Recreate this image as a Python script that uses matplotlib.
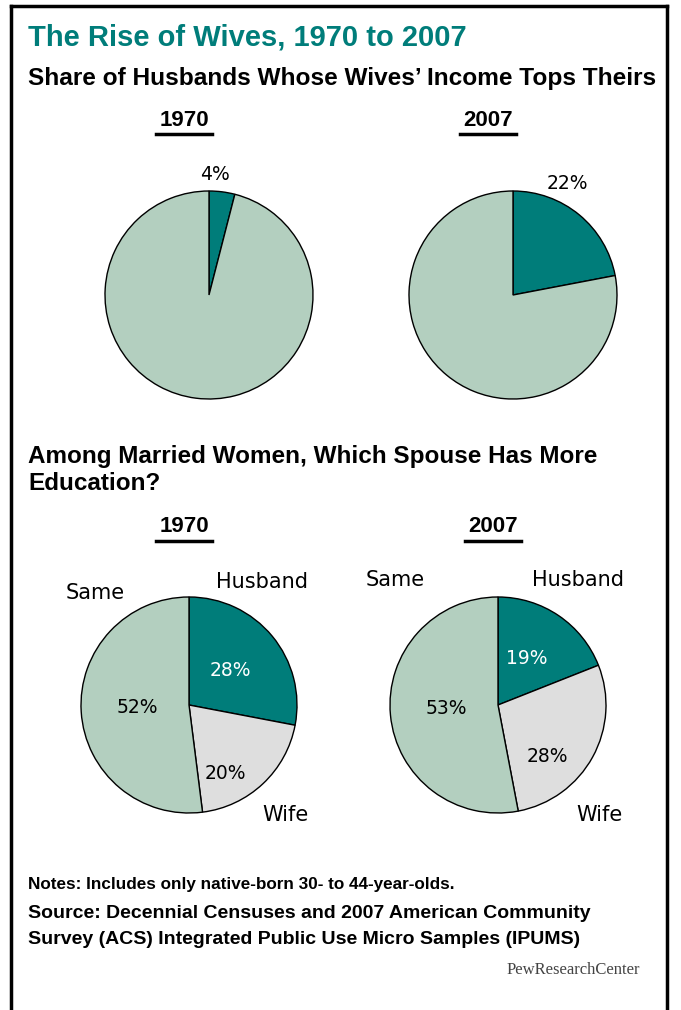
import matplotlib
matplotlib.use("Agg")
import matplotlib.pyplot as plt
from matplotlib.lines import Line2D
from matplotlib import font_manager

# income: share of husbands whose wife out-earns them
income_years = ["1970", "2007"]
income_wife_share = [4, 22]

# education: which spouse has more schooling
edu_years = ["1970", "2007"]
edu_categories = ["Husband", "Wife", "Same"]
edu_1970 = [28, 20, 52]
edu_2007 = [19, 28, 53]

TEAL = "#007d7a"
LIGHT_GREEN = "#b3cfbf"
LIGHT_GRAY = "#dedede"

W, H = 681, 1010
fig = plt.figure(figsize=(W / 100, H / 100), dpi=100)

names = {f.name for f in font_manager.fontManager.ttflist}
bold_font = ["Liberation Sans Narrow", "Liberation Sans", "DejaVu Sans"]
bold_font = [f for f in bold_font if f in names] or ["DejaVu Sans"]
plain_font = ["DejaVu Sans"]


def fx(px):
    return px / W


def fy(py):
    return 1 - py / H


def heading(x, y, s, size, color="black"):
    fig.text(fx(x), fy(y), s, fontsize=size, fontweight="bold", color=color,
             family=bold_font, ha="left", va="center")


def year_label(cx, y, s):
    fig.text(fx(cx), fy(y), s, fontsize=16, fontweight="bold",
             family=bold_font, ha="center", va="center")
    fig.add_artist(Line2D([fx(cx - 28), fx(cx + 28)], [fy(y + 14), fy(y + 14)],
                          color="black", lw=2.5, transform=fig.transFigure))


def pie_axes(cx, cy, r, pad=1.05):
    rr = r * pad
    ax = fig.add_axes([fx(cx - rr), (H - cy - rr) / H, 2 * rr / W, 2 * rr / H])
    ax.axis("off")
    return ax, pad


def fix_limits(ax, pad):
    ax.set_xlim(-pad, pad)
    ax.set_ylim(-pad, pad)
    ax.set_aspect("equal")


# frame (open at the bottom)
for xs, ys in [([11, 11], [6, H]), ([11, 667], [6, 6]), ([667, 667], [6, H])]:
    fig.add_artist(Line2D([fx(v) for v in xs], [fy(v) for v in ys],
                          color="black", lw=2.5, transform=fig.transFigure))

heading(28, 38, "The Rise of Wives, 1970 to 2007", 21)
fig.texts[-1].set_color(TEAL)
heading(28, 78, "Share of Husbands Whose Wives\u2019 Income Tops Theirs", 17.6)

# income pies
top_centers = [(209, 295), (513, 295)]
top_label_pos = [(0.06, 1.16), (0.52, 1.07)]
for year, share, (cx, cy), (lx, ly) in zip(income_years, income_wife_share,
                                           top_centers, top_label_pos):
    year_label(cx - 25, 120, year)
    ax, pad = pie_axes(cx, cy, 104)
    ax.pie([share, 100 - share], colors=[TEAL, LIGHT_GREEN], startangle=90,
           counterclock=False, wedgeprops=dict(edgecolor="black", linewidth=1))
    fix_limits(ax, pad)
    ax.text(lx, ly, f"{share}%", fontsize=13.5, family=plain_font,
            ha="center", va="center", clip_on=False)

heading(28, 457, "Among Married Women, Which Spouse Has More", 17.5)
heading(28, 483, "Education?", 17.5)

# education pies
bottom_centers = [(189, 705), (498, 705)]
cat_label_pos = [
    [(0.68, 1.14), (0.89, -1.02), (-0.87, 1.04)],
    [(0.74, 1.16), (0.94, -1.02), (-0.95, 1.16)],
]
pct_label_pos = [
    [(0.38, 0.32), (0.34, -0.63), (-0.48, -0.02)],
    [(0.27, 0.43), (0.46, -0.48), (-0.48, -0.03)],
]
pct_colors = ["white", "black", "black"]
for year, vals, (cx, cy), cpos, ppos in zip(edu_years, [edu_1970, edu_2007],
                                            bottom_centers, cat_label_pos,
                                            pct_label_pos):
    year_label(cx - 5, 527, year)
    ax, pad = pie_axes(cx, cy, 108)
    ax.pie(vals, colors=[TEAL, LIGHT_GRAY, LIGHT_GREEN], startangle=90,
           counterclock=False, wedgeprops=dict(edgecolor="black", linewidth=1))
    fix_limits(ax, pad)
    for cat, v, (x, y), (px, py), c in zip(edu_categories, vals, cpos, ppos,
                                          pct_colors):
        ax.text(x, y, cat, fontsize=15, family=plain_font,
                ha="center", va="center", clip_on=False)
        ax.text(px, py, f"{v}%", fontsize=13.5, family=plain_font, color=c,
                ha="center", va="center")

heading(28, 885, "Notes: Includes only native-born 30- to 44-year-olds.", 12.3)
heading(28, 913, "Source: Decennial Censuses and 2007 American Community", 14)
heading(28, 940, "Survey (ACS) Integrated Public Use Micro Samples (IPUMS)", 14)

fig.text(fx(640), fy(970), "PewResearchCenter", fontsize=12,
         family=["Liberation Serif", "DejaVu Serif"], color="#444444",
         ha="right", va="center")

fig.savefig("out.png", dpi=100)
